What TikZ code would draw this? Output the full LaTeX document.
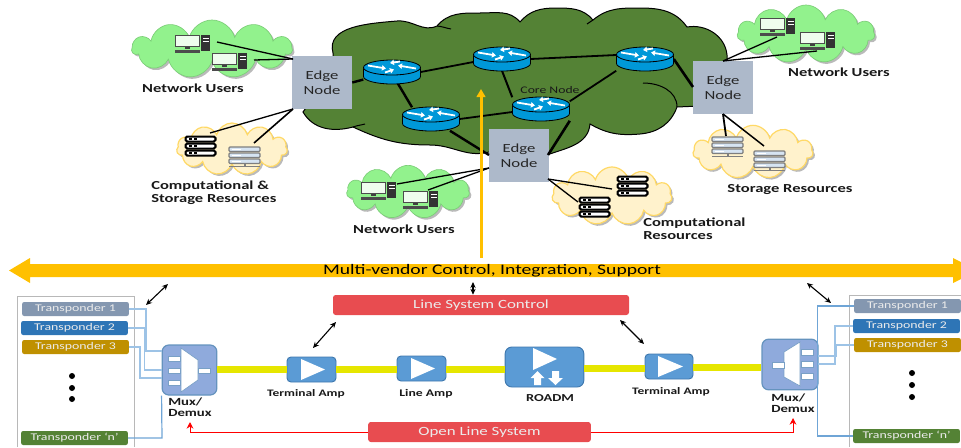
\documentclass[tikz,border=0pt]{standalone}
\usepackage{fontspec}
\setmainfont{Carlito}[FakeStretch=1.35]
\usetikzlibrary{shapes.symbols,shadows,arrows.meta,calc}
\definecolor{bigcl}{HTML}{548235}
\definecolor{grn}{HTML}{92F28D}
\definecolor{crm}{HTML}{FFF2CC}
\definecolor{crmb}{HTML}{FFD966}
\definecolor{edgec}{HTML}{ADB9CA}
\definecolor{rtr}{HTML}{0098D8}
\definecolor{gold}{HTML}{FFC000}
\definecolor{redb}{HTML}{E84C50}
\definecolor{ampc}{HTML}{5B9BD5}
\definecolor{ampb}{HTML}{3F78AE}
\definecolor{muxc}{HTML}{8FAADC}
\definecolor{wirea}{HTML}{9DC3E6}
\definecolor{wireb}{HTML}{6FA5D6}
\definecolor{lime}{HTML}{E6E600}
\definecolor{srvg}{HTML}{7F7F7F}
\definecolor{srvb}{HTML}{D6E4F2}
\definecolor{tslate}{HTML}{8497B0}
\definecolor{tblue}{HTML}{2E75B6}
\definecolor{tgold}{HTML}{BF9000}
\definecolor{tgreen}{HTML}{548235}
\tikzset{
 pxw/.style={line width=#1*0.75pt},
 cloudbase/.style={cloud,cloud puffs=11,cloud ignores aspect,inner sep=0pt,
   drop shadow={shadow xshift=1.5pt,shadow yshift=-1.5pt,opacity=.45,fill=black!60}},
 greencl/.style={cloudbase,fill=grn,draw=grn!85!black,line width=0.5pt},
 creamcl/.style={cloudbase,fill=crm,draw=crmb,line width=0.9pt},
 edgebox/.style={fill=edgec,minimum width=45pt,minimum height=39.75pt,inner sep=0pt,align=center,font=\fontsize{9.3}{11.2}\selectfont,text=black!85},
 lab/.style={font=\bfseries\fontsize{9.2}{9.5}\selectfont,align=left,inner sep=0pt,text=black!90},
 sublab/.style={font=\bfseries\fontsize{7.45}{8}\selectfont,align=left,inner sep=0pt,text=black!90},
 muxlab/.style={font=\bfseries\fontsize{8.2}{8.3}\selectfont,align=left,inner sep=0pt,text=black!90,anchor=west},
 thin1/.style={pxw=1.3,black},
 thick1/.style={pxw=2.4,black},
 trp/.style={rounded corners=1.5pt,minimum width=80pt,minimum height=10.5pt,inner sep=0pt,text=white!92!black,font=\fontsize{7.7}{9}\selectfont},
 redbox/.style={fill=redb,rounded corners=2pt,inner sep=0pt,text=white!92!black,font=\fontsize{9.4}{11}\selectfont},
 ampbox/.style={fill=ampc,draw=ampb,line width=0.7pt,rounded corners=3pt,inner sep=0pt},
 muxbox/.style={fill=muxc,draw=ampb!80,line width=0.9pt,rounded corners=5pt,inner sep=0pt},
 wh/.style={fill=white,draw=ampb!70,line width=0.5pt},
 dbl/.style={pxw=1.1,black,{Stealth[length=4.5pt,width=4pt]}-{Stealth[length=4.5pt,width=4pt]}},
 panel/.style={draw=black!28,pxw=1},
 limeline/.style={lime,pxw=7},
 wa/.style={wirea,pxw=1.4},
 wb/.style={wireb,pxw=1.2},
 redl/.style={red,pxw=1},
 rarrow/.style={white,pxw=1.8,-{Triangle[length=3pt,width=4pt]}},
 rnode/.style={minimum width=42.75pt,minimum height=17.25pt,inner sep=0pt},
}
\newcommand\routerpic[2]{%
 \begin{scope}[shift={(#1,#2)}]
  \path[fill=rtr,draw=black,line width=.6pt] (-28.5,-4.5) -- (-28.5,4.5) arc[start angle=180,end angle=0,x radius=28.5,y radius=7.5] -- (28.5,-4.5) -- cycle;
  \path[fill=rtr,draw=black,line width=.6pt] (0,-4.5) ellipse[x radius=28.5,y radius=7.5];
  \draw[rarrow] (-24,-6.5) -- (-6,-3.5);
  \draw[rarrow] (24,-3.5) -- (6,-6.5);
  \draw[rarrow] (8,-10.5) -- (-2,-9);
  \draw[rarrow] (-7,0.5) -- (2,-2.5);
 \end{scope}}
\newcommand\pcicon[2]{%
 \begin{scope}[shift={(#1,#2)}]
  \draw[fill=white!85!grn,draw=black!70,line width=.7pt] (0,0) rectangle (24.5,11.5);
  \fill[black!75] (10,11.5) rectangle (15,14);
  \fill[black!70] (0,15) rectangle (25,17.5);
  \fill[black!80] (26,0) rectangle (35,16);
  \fill[white!70] (27.5,3) rectangle (33.5,4);
  \fill[white!70] (27.5,6) rectangle (33.5,7);
 \end{scope}}
\newcommand\blackserver[2]{%
 \begin{scope}[shift={(#1,#2)}]
  \foreach \yy in {0,7,14}{
   \draw[fill=white,draw=black,line width=1.5pt,rounded corners=1.2pt] (0.5,\yy+.5) rectangle (30.5,\yy+5.5);
   \fill[black] (4,\yy+2.3) rectangle (7,\yy+3.7);
   \fill[black] (9,\yy+2.3) rectangle (12,\yy+3.7);
  }
 \end{scope}}
\newcommand\blueserver[2]{%
 \begin{scope}[shift={(#1,#2)}]
  \foreach \yy in {0,6,12}{
   \draw[fill=srvb,draw=srvg,line width=.9pt,rounded corners=.8pt] (0,\yy) rectangle (31,\yy+4.5);
   \fill[white] (3,\yy+1.5) rectangle (12,\yy+3);
  }
  \fill[srvg] (15,16.5) rectangle (16.5,19);
  \fill[srvg] (0,18.5) rectangle (31,19.5);
 \end{scope}}
\begin{document}
\begin{tikzpicture}[x=0.75pt,y=-0.75pt]
\useasboundingbox (0,0) rectangle (961,447);
% ---- clouds
\path[fill=bigcl,draw=black,line width=.75pt]
 (333,53) to[out=105,in=185] (397,21) to[out=5,in=205] (437,26)
 to[out=50,in=180] (480,13) to[out=0,in=130] (520,22)
 to[out=50,in=180] (556,8) to[out=0,in=130] (593,20)
 to[out=40,in=180] (640,8) to[out=0,in=125] (687,27)
 to[out=10,in=95] (727,55) to[out=-85,in=0] (700,106) -- (677,107)
 to[out=-110,in=5] (640,134) to[out=185,in=-30] (590,124)
 to[out=-95,in=20] (547,155) -- (489,152) to[out=195,in=0] (430,145)
 to[out=180,in=-25] (353,127) to[out=195,in=-60] (303,112)
 -- (333,70) -- cycle;
\draw[black,line width=.75pt] (437,26) to[out=-5,in=170] (451,29);
\draw[black,line width=.75pt] (353,127) to[out=20,in=195] (365,124);
\draw[black,line width=.75pt] (643,83) to[out=0,in=90] (677,107);
\draw[black,line width=.75pt] (593,20) -- (587,24);
\node[greencl,minimum width=120pt,minimum height=43.5pt] (cg1) at (212,49) {};
\node[creamcl,minimum width=83pt,minimum height=39pt] (cc1) at (232,149) {};
\node[greencl,minimum width=92pt,minimum height=40pt] (cg2) at (408,192) {};
\node[creamcl,minimum width=90pt,minimum height=43.5pt] (cc2) at (612,196) {};
\node[greencl,minimum width=103pt,minimum height=43.5pt] (cg3) at (806,34) {};
\node[creamcl,minimum width=90pt,minimum height=40pt] (cc3) at (753,152) {};
% ---- nodes
\node[rnode] (r1) at (392,72) {};
\node[rnode] (r2) at (502,59) {};
\node[rnode] (r3) at (431,119) {};
\node[rnode] (r4) at (541,109) {};
\node[rnode] (r5) at (645,59) {};
\node[edgebox] (e1) at (322,82.5) {Edge\\Node};
\node[edgebox] (e2) at (519,155.5) {Edge\\Node};
\node[edgebox] (e3) at (723,87.5) {Edge\\Node};
\coordinate (pa1) at (217,42); \coordinate (pa2) at (254,60);
\coordinate (sa1) at (210,133); \coordinate (sa2) at (254,143);
\coordinate (pb1) at (397,184); \coordinate (pb2) at (428,190);
\coordinate (sb1) at (612,189); \coordinate (sb2) at (578,202);
\coordinate (pc1) at (777,37); \coordinate (pc2) at (817,51);
\coordinate (sc1) at (726,136); \coordinate (sc2) at (764,146);
\coordinate (e1a) at (293,59); \coordinate (e1b) at (293,109);
\coordinate (e2a) at (489,168); \coordinate (e2b) at (548,179); \coordinate (e2c) at (489,155); \coordinate (e2d) at (548,155);
\coordinate (e3a) at (723,61); \coordinate (e3b) at (723,114); \coordinate (e3c) at (693,87);
% ---- connectors
\draw[thick1] (e1.east) -- (r1);
\draw[thick1] ($(r1.south)+(6,0)$) -- ($(r3.north)+(-19,0)$);
\draw[thin1,pxw=1.8] (r1.east) -- ($(r2.west)+(0,3)$);
\draw[thin1,pxw=1.8] (r2.east) -- ($(r5.west)+(0,-4)$);
\draw[thick1,pxw=2] (r2.south) -- (r4.north west);
\draw[thin1,pxw=1.8] (r3.east) -- ($(r4.west)+(0,3)$);
\draw[thin1,pxw=1.8] (r4.15) -- (r5.south west);
\draw[thick1] (r3) -- (e2c);
\draw[thick1,pxw=2.6] (r4.south east) -- (e2d);
\draw[thick1,pxw=2.6] (r5.east) -- (e3c);
\draw[thin1] (e1a) -- (pa1); \draw[thin1] (e1a) -- (pa2);
\draw[thin1] (e1b) -- (sa1); \draw[thin1,pxw=1.6] (e1b) -- (sa2);
\draw[thin1] (e2a) -- (pb1); \draw[thin1] (e2a) -- (pb2);
\draw[thin1] (e2b) -- (sb1); \draw[thin1] (e2b) -- (sb2);
\draw[thin1] (e3a) -- (pc1); \draw[thin1] (e3a) -- (pc2);
\draw[thin1,pxw=1.8] (e3b) -- (sc1); \draw[thin1,pxw=1.5] (e3b) -- (sc2);
% ---- icons
\routerpic{392}{72}\routerpic{502}{59}\routerpic{431}{119}\routerpic{541}{109}\routerpic{645}{59}
\pcicon{175}{35}\pcicon{212}{53}\pcicon{361}{182}\pcicon{403}{191}\pcicon{760}{18}\pcicon{800}{32}
\blackserver{185}{136}\blackserver{617}{176}\blackserver{579}{197}
\blueserver{229}{147}\blueserver{712}{137}\blueserver{754}{151}
% ---- labels top
\node[lab] (l1) at (193,88) {Network Users};
\node[lab,anchor=west] (l2) at (151,193) {Computational \&\\Storage Resources};
\node[lab] (l3) at (404,229) {Network Users};
\node[lab,anchor=west] (l4) at (643,229) {Computational\\Resources};
\node[lab] (l5) at (839,72) {Network Users};
\node[lab] (l6) at (790,190) {Storage Resources};
\node[font=\fontsize{7.6}{8}\selectfont,inner sep=0pt,text=black!90] (l7) at (550,90) {Core Node};
% ---- gold arrows
\coordinate (vb) at (481,258); \coordinate (vt) at (481,89);
\draw[gold,pxw=3,-{Triangle[length=6pt,width=6.5pt]}] (vb) -- (vt);
\path[fill=gold] (9,270.5) -- (30,258) -- (30,264) -- (953,264) -- (953,258) -- (961,262) -- (961,279) -- (953,283) -- (953,277) -- (30,277) -- (30,283) -- cycle;
\node[inner sep=0pt,font=\fontsize{10.9}{12}\selectfont,text=black] (mv) at (492,271) {Multi-vendor Control, Integration, Support};
% ---- line system control
\node[redbox,minimum width=222pt,minimum height=15pt] (lsc) at (481,305) {Line System Control};
\node[redbox,minimum width=167pt,minimum height=15pt] (ols) at (479.5,432) {Open Line System};
% ---- panels
\draw[panel] (17,447) -- (17,296) -- (134,296) -- (134,447);
\draw[panel] (961,295) -- (849,295) -- (849,447);
% ---- boxes
\node[muxbox,minimum width=41pt,minimum height=37.5pt] (m1) at (189.5,370) {};
\node[muxbox,minimum width=42pt,minimum height=38pt] (m2) at (790,364.5) {};
\node[ampbox,minimum width=36.75pt,minimum height=18.75pt] (a1) at (311.5,369.5) {};
\node[ampbox,minimum width=36.75pt,minimum height=18.75pt] (a2) at (421.5,368.5) {};
\node[ampbox,rounded corners=5pt,minimum width=59pt,minimum height=30pt] (rd) at (544.5,367) {};
\node[ampbox,minimum width=36pt,minimum height=18.75pt] (a3) at (669,366.5) {};
% ---- lime line
\coordinate (ya) at (0,369); \coordinate (yb) at (0,368.5); \coordinate (yc) at (0,367);
\draw[limeline] (m1.east |- ya) -- (a1.west |- ya);
\draw[limeline] (a1.east |- ya) -- (a2.west |- ya);
\draw[limeline] (a2.east |- ya) -- (rd.west |- ya);
\draw[limeline] (rd.east |- yb) -- (a3.west |- yb);
\draw[limeline] (a3.east |- yc) -- (m2.west |- yc);
% triangles
\path[fill=white] (301,359) -- (301,380) -- (325,369.5) -- cycle;
\path[fill=white] (411,358) -- (411,379) -- (435,368.5) -- cycle;
\path[fill=white] (658,356) -- (658,377) -- (683,366.5) -- cycle;
\path[fill=white] (533,348) -- (533,370) -- (557,359) -- cycle;
\path[fill=white] (534,385) -- (534,378) -- (530.5,378) -- (537.5,371) -- (544.5,378) -- (541,378) -- (541,385) -- cycle;
\path[fill=white] (552,371) -- (552,378) -- (548,378) -- (555.5,385) -- (563,378) -- (559,378) -- (559,371) -- cycle;
% mux inside
\path[wh] (181,348) -- (198,360) -- (198,380) -- (181,392) -- cycle;
\path[wh] (168,356) rectangle (180,361);
\path[wh] (168,368) rectangle (180,373);
\path[wh] (168,380) rectangle (180,385);
\path[wh] (198,368) rectangle (210,373);
\path[wh] (800,342) -- (784,352) -- (784,377) -- (800,386) -- cycle;
\path[wh] (801,349) rectangle (813,355);
\path[wh] (801,361) rectangle (813,367);
\path[wh] (801,373) rectangle (813,379);
\path[wh] (772,362) rectangle (784,368);
% ---- transponders
\node[trp,fill=tslate] (t1) at (75.5,309) {Transponder 1};
\node[trp,fill=tblue] (t2) at (74.5,328) {Transponder 2};
\node[trp,fill=tgold] (t3) at (75.5,347) {Transponder 3};
\node[trp,fill=tgreen] (tn) at (74.5,438) {Transponder ‘n’};
\node[trp,fill=tslate] (u1) at (907.5,306) {Transponder 1};
\node[trp,fill=tblue] (u2) at (906.5,326) {Transponder 2};
\node[trp,fill=tgold] (u3) at (907.5,345) {Transponder 3};
\node[trp,fill=tgreen] (un) at (906.5,436) {Transponder ‘n’};
\foreach \yy in {376,388,399}{\fill[black] (72,\yy) circle[radius=3];}
\foreach \yy in {373,385,397}{\fill[black] (912,\yy) circle[radius=3];}
% ---- wires
\coordinate (m1a) at (162,351); \coordinate (m1b) at (162,370); \coordinate (m1c) at (162,378);
\coordinate (m2a) at (818,356); \coordinate (m2b) at (818,364);
\draw[wa] (t1.east) -- (146,309) -- (146,351) -- (m1a);
\draw[wa] (t2.east) -- (144.5,328) -- (144.5,370) -- (m1b);
\draw[wa] (t3.east) -- (140,347) -- (140,378) -- (m1c);
\draw[wb] (tn.east) -- (162,438) -- (m1.south west);
\draw[wb] (u1.west) -- (817.5,306) -- (817.5,436) -- (un.west);
\draw[wa] (u2.west) -- (835,326) -- (835,364) -- (m2b);
\draw[wa] (u3.west) -- (836,345) -- (836,356) -- (m2a);
% ---- red lines
\coordinate (rl) at (190,422); \coordinate (rr) at (793,418);
\draw[redl,-{Stealth[length=5pt,width=5pt]}] (ols.west) -- (190,432) -- (rl);
\draw[redl,-{Stealth[length=5pt,width=5pt]}] (ols.east) -- (793,432) -- (rr);
% ---- control arrows
\coordinate (d1) at (146,305); \coordinate (d2) at (168,284);
\coordinate (d3) at (807,283); \coordinate (d4) at (831,303);
\coordinate (d5) at (473,282);
\coordinate (d7) at (336,322); \coordinate (d8) at (313,348);
\coordinate (d9) at (620,320); \coordinate (d10) at (644,344);
\draw[dbl] (d1) -- (d2);
\draw[dbl] (d3) -- (d4);
\draw[dbl] (d5) -- (lsc.north -| d5);
\draw[dbl] (d7) -- (d8);
\draw[dbl] (d9) -- (d10);
% ---- lower labels
\node[sublab] (n1) at (306,394) {Terminal Amp};
\node[sublab,font=\bfseries\fontsize{7.6}{8}\selectfont] (n2) at (426,394) {Line Amp};
\node[sublab,font=\bfseries\fontsize{8}{8}\selectfont] (n3) at (550,398) {ROADM};
\node[sublab] (n4) at (671,392) {Terminal Amp};
\node[muxlab] (n5) at (168,407.5) {Mux/\\Demux};
\node[muxlab] (n6) at (771,403.5) {Mux/\\Demux};
\end{tikzpicture}
\end{document}
